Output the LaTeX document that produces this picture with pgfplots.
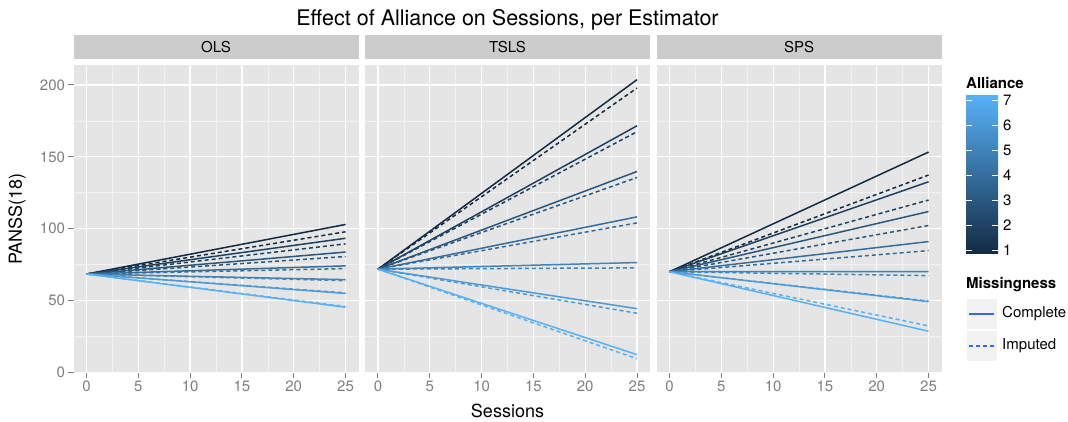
\documentclass[border=0pt]{standalone}
\usepackage{fontspec}
\setmainfont{TeX Gyre Heros}
\usepackage{pgfplots}
\pgfplotsset{compat=1.18}

\definecolor{a1}{HTML}{132B43}
\definecolor{a2}{HTML}{1E4161}
\definecolor{a3}{HTML}{29587F}
\definecolor{a4}{HTML}{356E9D}
\definecolor{a5}{HTML}{4084BB}
\definecolor{a6}{HTML}{4B9BD9}
\definecolor{a7}{HTML}{56B1F7}
\definecolor{panelbg}{HTML}{E5E5E5}
\definecolor{minorgrid}{HTML}{F2F2F2}
\definecolor{stripbg}{HTML}{CCCCCC}
\definecolor{tickgrey}{HTML}{7F7F7F}
\definecolor{keyblue}{HTML}{3366FF}

\pgfdeclareverticalshading{alliance}{100bp}{color(0bp)=(a1); color(25bp)=(a1);
  color(33.333bp)=(a2); color(41.667bp)=(a3); color(50bp)=(a4);
  color(58.333bp)=(a5); color(66.667bp)=(a6); color(75bp)=(a7); color(100bp)=(a7)}

\newcommand\smallfont{\fontsize{15}{18}\selectfont}

\tikzset{
  comp/.style={solid, line width=1.5pt},
  imp/.style={dash pattern=on 4pt off 3pt, line width=1.5pt},
}

\pgfplotsset{
  facet/.style={
    scale only axis, width=285pt, height=307.6pt, anchor=south west,
    xmin=-1.25, xmax=26.25, ymin=-0.2, ymax=213.9,
    xtick={0,5,...,25}, minor xtick={2.5,7.5,...,22.5},
    ytick={0,50,...,200}, minor ytick={25,75,125,175},
    xtick pos=bottom, ytick pos=left,
    grid=both,
    major grid style={draw=white, line width=1.2pt},
    minor grid style={draw=minorgrid, line width=0.6pt},
    axis background/.style={fill=panelbg},
    axis line style={draw=none},
    tick align=outside, major tick length=5pt, minor tick length=0pt,
    tick style={draw=tickgrey, line width=1pt},
    tick label style={font=\smallfont, text=tickgrey},
    /pgf/number format/assume math mode=true,
    title style={at={(0.5,1)}, anchor=south, yshift=0pt, fill=stripbg,
      minimum width=285pt, minimum height=24pt, inner sep=0pt, font=\smallfont},
  },
  inner/.style={yticklabels={}, ytick style={draw=none}},
}

\begin{document}
\begin{tikzpicture}
\path[use as bounding box] (0pt,0pt) rectangle (1068pt,421pt);

% OLS
\begin{axis}[facet, at={(73.5pt,48.4pt)}, title={OLS}]
\addplot[a1, imp] coordinates {(0,68.4) (25,97.8)};
\addplot[a2, imp] coordinates {(0,68.4) (25,89.4)};
\addplot[a3, imp] coordinates {(0,68.4) (25,80.6)};
\addplot[a4, imp] coordinates {(0,68.4) (25,72.2)};
\addplot[a5, imp] coordinates {(0,68.4) (25,63.8)};
\addplot[a6, imp] coordinates {(0,68.4) (25,55.3)};
\addplot[a7, imp] coordinates {(0,68.4) (25,45.8)};
\addplot[a1, comp] coordinates {(0,68.4) (25,102.9)};
\addplot[a2, comp] coordinates {(0,68.4) (25,93.3)};
\addplot[a3, comp] coordinates {(0,68.4) (25,83.7)};
\addplot[a4, comp] coordinates {(0,68.4) (25,74.1)};
\addplot[a5, comp] coordinates {(0,68.4) (25,64.5)};
\addplot[a6, comp] coordinates {(0,68.4) (25,54.9)};
\addplot[a7, comp] coordinates {(0,68.4) (25,45.3)};
\end{axis}

% TSLS
\begin{axis}[facet, inner, at={(365pt,48.4pt)}, title={TSLS}]
\addplot[a1, imp] coordinates {(0,71.8) (25,197.9)};
\addplot[a2, imp] coordinates {(0,71.8) (25,167.5)};
\addplot[a3, imp] coordinates {(0,71.8) (25,135.6)};
\addplot[a4, imp] coordinates {(0,71.8) (25,104.0)};
\addplot[a5, imp] coordinates {(0,71.8) (25,72.7)};
\addplot[a6, imp] coordinates {(0,71.8) (25,41.1)};
\addplot[a7, imp] coordinates {(0,71.8) (25,9.5)};
\addplot[a1, comp] coordinates {(0,71.8) (25,203.7)};
\addplot[a2, comp] coordinates {(0,71.8) (25,171.6)};
\addplot[a3, comp] coordinates {(0,71.8) (25,139.8)};
\addplot[a4, comp] coordinates {(0,71.8) (25,108.2)};
\addplot[a5, comp] coordinates {(0,71.8) (25,76.4)};
\addplot[a6, comp] coordinates {(0,71.8) (25,44.3)};
\addplot[a7, comp] coordinates {(0,71.8) (25,12.3)};
\end{axis}

% SPS
\begin{axis}[facet, inner, at={(656.5pt,48.4pt)}, title={SPS}]
\addplot[a1, imp] coordinates {(0,70) (25,137.3)};
\addplot[a2, imp] coordinates {(0,70) (25,119.9)};
\addplot[a3, imp] coordinates {(0,70) (25,102.2)};
\addplot[a4, imp] coordinates {(0,70) (25,84.7)};
\addplot[a5, imp] coordinates {(0,70) (25,67.3)};
\addplot[a6, imp] coordinates {(0,70) (25,49.6)};
\addplot[a7, imp] coordinates {(0,70) (25,32.3)};
\addplot[a1, comp] coordinates {(0,70) (25,153.3)};
\addplot[a2, comp] coordinates {(0,70) (25,132.6)};
\addplot[a3, comp] coordinates {(0,70) (25,111.9)};
\addplot[a4, comp] coordinates {(0,70) (25,91.0)};
\addplot[a5, comp] coordinates {(0,70) (25,70.1)};
\addplot[a6, comp] coordinates {(0,70) (25,49.2)};
\addplot[a7, comp] coordinates {(0,70) (25,28.6)};
\end{axis}

% titles
\node[font=\fontsize{21.5}{25}\selectfont] at (507.5pt,401pt) {Effect of Alliance on Sessions, per Estimator};
\node[font=\fontsize{18}{21}\selectfont] at (507.5pt,10pt) {Sessions};
\node[font=\fontsize{18}{21}\selectfont, rotate=90] at (17pt,202pt) {PANSS(18)};

% colour legend
\node[anchor=west, inner sep=0pt, font=\smallfont\bfseries] at (966pt,338pt) {Alliance};
\shade[shading=alliance] (966pt,168pt) rectangle (998pt,325pt);
\foreach \v in {1,...,7} {
  \pgfmathsetmacro\yy{171+(\v-1)*25}
  \draw[white, line width=0.8pt] (966pt,\yy pt) -- ++(6.4pt,0pt);
  \draw[white, line width=0.8pt] (998pt,\yy pt) -- ++(-6.4pt,0pt);
  \node[anchor=west, inner sep=0pt, font=\smallfont] at (1003pt,\yy pt) {\v};
}

% linetype legend
\node[anchor=west, inner sep=0pt, font=\smallfont\bfseries] at (966pt,136pt) {Missingness};
\fill[minorgrid] (966.7pt,92pt) rectangle (996.7pt,122pt);
\fill[minorgrid] (966.7pt,60pt) rectangle (996.7pt,90pt);
\draw[keyblue, comp] (969pt,107pt) -- (994pt,107pt);
\draw[keyblue, imp] (969pt,75pt) -- (994pt,75pt);
\node[anchor=west, inner sep=0pt, font=\smallfont] at (1002pt,107pt) {Complete};
\node[anchor=west, inner sep=0pt, font=\smallfont] at (1002pt,75pt) {Imputed};
\end{tikzpicture}
\end{document}
